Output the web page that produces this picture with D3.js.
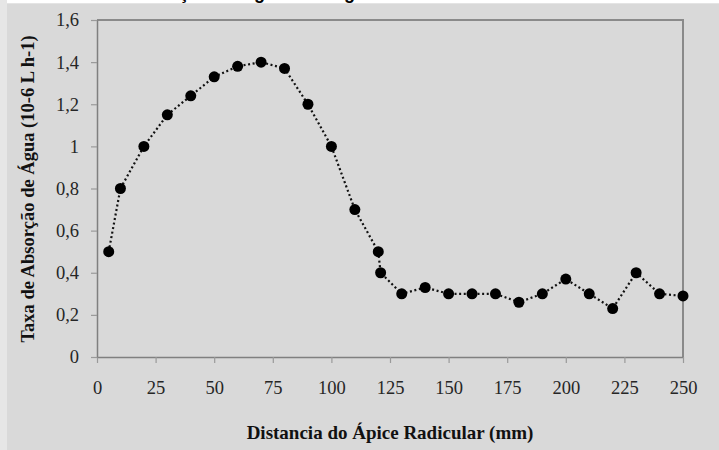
<!DOCTYPE html>
<html>
<head>
<meta charset="utf-8">
<script src="https://cdn.jsdelivr.net/npm/d3@7"></script>
<style>
  body { margin: 0; background: #d9d9d9; }
  svg { display: block; }
</style>
</head>
<body>
<div id="chart"></div>
<script>
const distancia = [5, 10, 20, 30, 40, 50, 60, 70, 80, 90, 100, 110, 120, 121, 130, 140, 150, 160, 170, 180, 190, 200, 210, 220, 230, 240, 250];
const taxa = [0.5, 0.8, 1.0, 1.15, 1.24, 1.33, 1.38, 1.40, 1.37, 1.20, 1.0, 0.70, 0.5, 0.40, 0.30, 0.33, 0.30, 0.30, 0.30, 0.26, 0.30, 0.37, 0.30, 0.23, 0.40, 0.30, 0.29];
const xTicks = [0, 25, 50, 75, 100, 125, 150, 175, 200, 225, 250];
const yTicks = [0, 0.2, 0.4, 0.6, 0.8, 1, 1.2, 1.4, 1.6];

const width = 719, height = 450;
const margin = {top: 20, right: 36, bottom: 93, left: 97};

const svg = d3.select("#chart")
  .append("svg")
    .attr("width", width)
    .attr("height", height);

// background, with the light strips of the scanned page
svg.append("rect").attr("width", width).attr("height", height).attr("fill", "#d9d9d9");
svg.append("rect").attr("width", width).attr("height", 3.3).attr("fill", "#ffffff");
svg.append("rect").attr("width", 7).attr("height", height).attr("fill", "#e6e6e6");

// title, almost all above the picture (as in the scan)
const title = svg.append("text")
  .attr("x", 138)
  .attr("y", -1)
  .attr("font-family", "Liberation Sans, Arial, sans-serif")
  .attr("font-weight", "bold")
  .attr("font-size", 18)
  .attr("fill", "#000")
  .text("Absorção de Água ao longo da Raiz");
// put the ç where it is in the picture
const cPos = title.node().getStartPositionOfChar(6).x;
title.attr("x", 138 + (189 - cPos));

const x = d3.scaleLinear()
  .domain([0, 250])
  .range([margin.left, width - margin.right]);

const y = d3.scaleLinear()
  .domain([0, 1.6])
  .range([height - margin.bottom, margin.top]);

const fmt = d => String(d).replace(".", ",");

// frame top and right
svg.append("path")
  .attr("fill", "none")
  .attr("stroke", "#8a8a8a")
  .attr("stroke-width", 2)
  .attr("d", `M${x(0)},${y(1.6)}H${x(250)}V${y(0)}`);

// x axis
svg.append("g")
  .attr("transform", `translate(0, ${y(0)})`)
  .call(d3.axisBottom(x).tickValues(xTicks).tickSize(6).tickPadding(18).tickSizeOuter(0))
  .call(g => g.select(".domain").attr("stroke", "#808080").attr("stroke-width", 1.5))
  .call(g => g.selectAll(".tick line").attr("stroke", "#9a9a9a").attr("stroke-width", 1.2))
  .call(g => g.selectAll(".tick text")
    .attr("font-family", "Liberation Serif, Times New Roman, serif")
    .attr("font-size", 18.5)
    .attr("fill", "#262626"));

// y axis
svg.append("g")
  .attr("transform", `translate(${x(0)}, 0)`)
  .call(d3.axisLeft(y).tickValues(yTicks).tickFormat(fmt).tickSize(6).tickPadding(12).tickSizeOuter(0))
  .call(g => g.select(".domain").attr("stroke", "#808080").attr("stroke-width", 1.5))
  .call(g => g.selectAll(".tick line").attr("stroke", "#9a9a9a").attr("stroke-width", 1.2))
  .call(g => g.selectAll(".tick text")
    .attr("font-family", "Liberation Serif, Times New Roman, serif")
    .attr("font-size", 18.5)
    .attr("fill", "#262626"));

// axis titles
svg.append("text")
  .attr("x", 390)
  .attr("y", 439)
  .attr("text-anchor", "middle")
  .attr("font-family", "Liberation Serif, Times New Roman, serif")
  .attr("font-weight", "bold")
  .attr("font-size", 19)
  .attr("fill", "#111")
  .text("Distancia do Ápice Radicular (mm)");

svg.append("text")
  .attr("transform", `translate(34, 189) rotate(-90)`)
  .attr("text-anchor", "middle")
  .attr("font-family", "Liberation Serif, Times New Roman, serif")
  .attr("font-weight", "bold")
  .attr("font-size", 18.5)
  .attr("fill", "#111")
  .text("Taxa de Absorção de Água (10-6 L h-1)");

// dotted line and markers
const points = [];
for (let i = 0; i < distancia.length; i++) {
  points.push([x(distancia[i]), y(taxa[i])]);
}

svg.append("path")
  .attr("fill", "none")
  .attr("stroke", "#111")
  .attr("stroke-width", 2.2)
  .attr("stroke-dasharray", "2,2.6")
  .attr("d", d3.line()(points));

svg.append("g")
  .selectAll("circle")
  .data(points)
  .join("circle")
    .attr("cx", d => d[0])
    .attr("cy", d => d[1])
    .attr("r", 5.5)
    .attr("fill", "#000");
</script>
</body>
</html>
